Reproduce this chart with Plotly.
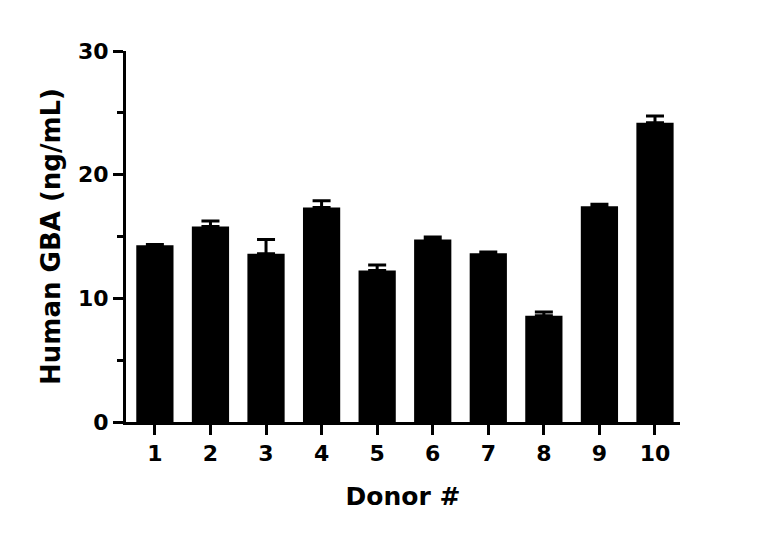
import plotly.graph_objects as go

donors = [1, 2, 3, 4, 5, 6, 7, 8, 9, 10]
tick_labels = ["1", "2", "3", "4", "5", "6", "7", "8", "9", "10"]
gba_mean = [14.3, 15.8, 13.6, 17.35, 12.25, 14.75, 13.65, 8.6, 17.45, 24.2]
gba_err = [0.05, 0.45, 1.15, 0.55, 0.45, 0.2, 0.1, 0.3, 0.15, 0.55]

FONT = "DejaVu Sans"

fig = go.Figure()
fig.add_trace(go.Bar(
    x=donors,
    y=gba_mean,
    width=0.67,
    marker=dict(color="black", line=dict(width=0)),
    error_y=dict(type="data", symmetric=False, array=gba_err,
                 arrayminus=[0] * len(gba_err),
                 color="black", thickness=3, width=9),
    showlegend=False,
))

fig.update_layout(
    width=768, height=542,
    margin=dict(l=118, r=96, t=43, b=128),
    paper_bgcolor="white", plot_bgcolor="white",
    font=dict(family=FONT, color="black", size=22, weight="bold"),
)

fig.update_xaxes(
    range=[0.48, 10.45],
    tickmode="array", tickvals=donors, ticktext=tick_labels,
    showline=True, linecolor="black", linewidth=3,
    ticks="outside", ticklen=10, tickwidth=3, tickcolor="black",
    tickfont=dict(family=FONT, size=22, weight="bold"),
    showgrid=False, zeroline=False,
    title=dict(text="Donor #", font=dict(family=FONT, size=25, weight="bold"), standoff=23),
)
fig.update_yaxes(
    range=[0, 30],
    tickmode="linear", tick0=0, dtick=10,
    showline=True, linecolor="black", linewidth=3,
    ticks="outside", ticklen=10, tickwidth=3, tickcolor="black",
    minor=dict(dtick=5, tick0=0, ticks="outside", ticklen=6, tickwidth=3, tickcolor="black", showgrid=False),
    tickfont=dict(family=FONT, size=22, weight="bold"),
    showgrid=False, zeroline=False,
    title=dict(text="Human GBA (ng/mL)", font=dict(family=FONT, size=26, weight="bold"), standoff=10),
)

fig.write_html("out.html")
